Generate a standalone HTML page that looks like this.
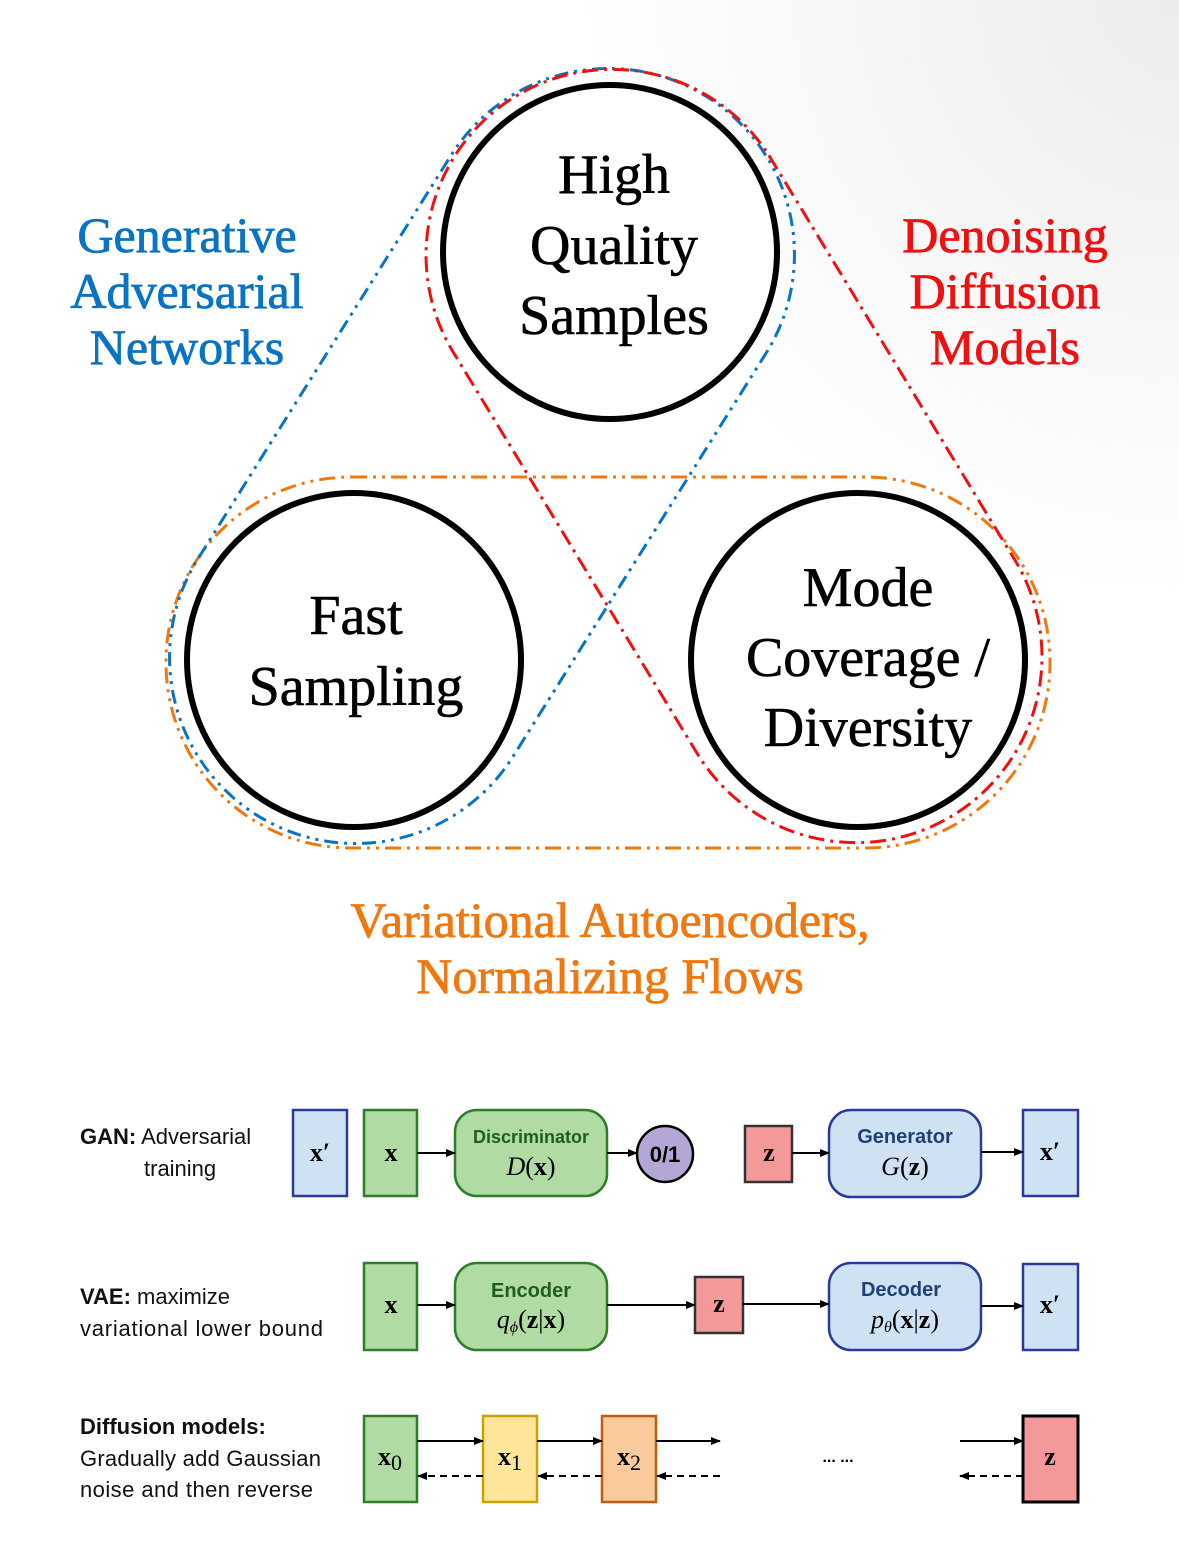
<!DOCTYPE html>
<html><head><meta charset="utf-8"><style>
html,body{margin:0;padding:0;background:#fff}
svg{display:block}
</style></head><body>
<svg width="1179" height="1547" viewBox="0 0 1179 1547" xmlns="http://www.w3.org/2000/svg">
<defs>
<radialGradient id="bg" cx="1179" cy="0" r="600" gradientUnits="userSpaceOnUse">
<stop offset="0" stop-color="#ececec"/><stop offset="0.6" stop-color="#f8f8f8"/><stop offset="1" stop-color="#ffffff"/>
</radialGradient>
<marker id="ah" markerWidth="10" markerHeight="8" refX="9" refY="4" orient="auto" markerUnits="userSpaceOnUse">
<path d="M0,0 L10,4 L0,8 z" fill="#000"/></marker>
</defs>
<rect width="1179" height="1547" fill="url(#bg)"/>

<rect x="166" y="477" width="884" height="371" rx="185" fill="none" stroke="#f07810" stroke-width="3" stroke-dasharray="16 6 3 6 3 6"/>
<path d="M767.5,350.9 L511.5,758.9 A186,186 0 0 1 196.5,561.1 L452.5,153.1 A186,186 0 0 1 767.5,350.9 Z" fill="none" stroke="#0a74c4" stroke-width="3" stroke-dasharray="14 6 3 6 3 6"/>
<path d="M768.9,155.4 L1016.9,563.4 A186,186 0 0 1 699.1,756.6 L451.1,348.6 A186,186 0 0 1 768.9,155.4 Z" fill="none" stroke="#ee1111" stroke-width="3" stroke-dasharray="16 6 3 6"/>

<g fill="#fff" stroke="#000" stroke-width="6">
<circle cx="610" cy="252" r="167"/>
<circle cx="354" cy="660" r="167"/>
<circle cx="858" cy="660" r="167"/>
</g>
<g font-family="Liberation Serif, serif" font-size="56" text-anchor="middle" fill="#000" stroke="#000" stroke-width="0.6">
<text x="614" y="193">High</text>
<text x="614" y="264">Quality</text>
<text x="614" y="334">Samples</text>
<text x="356" y="634">Fast</text>
<text x="356" y="705">Sampling</text>
<text x="868" y="606">Mode</text>
<text x="868" y="676">Coverage /</text>
<text x="868" y="746">Diversity</text>
</g>
<g font-family="Liberation Serif, serif" font-size="50" text-anchor="middle" stroke-width="0.8">
<text x="187" y="252" fill="#0a74c4" stroke="#0a74c4">Generative</text>
<text x="187" y="308" fill="#0a74c4" stroke="#0a74c4">Adversarial</text>
<text x="187" y="364" fill="#0a74c4" stroke="#0a74c4">Networks</text>
<text x="1005" y="252" fill="#ee1111" stroke="#ee1111">Denoising</text>
<text x="1005" y="308" fill="#ee1111" stroke="#ee1111">Diffusion</text>
<text x="1005" y="364" fill="#ee1111" stroke="#ee1111">Models</text>
<text x="610" y="937" fill="#f07810" stroke="#f07810">Variational Autoencoders,</text>
<text x="610" y="993" fill="#f07810" stroke="#f07810">Normalizing Flows</text>
</g>

<g font-family="Liberation Sans, sans-serif" font-size="22" fill="#111">
<text x="80" y="1144"><tspan font-weight="bold">GAN:</tspan> Adversarial</text>
<text x="144" y="1176">training</text>
<text x="80" y="1304"><tspan font-weight="bold">VAE:</tspan> maximize</text>
<text x="80" y="1336" textLength="243">variational lower bound</text>
<text x="80" y="1434" font-weight="bold">Diffusion models:</text>
<text x="80" y="1466" textLength="241">Gradually add Gaussian</text>
<text x="80" y="1497" textLength="233">noise and then reverse</text>
</g>

<g stroke-width="2.5">
<rect x="293" y="1110" width="54" height="86" fill="#cfe2f3" stroke="#2a3a9a"/>
<rect x="364" y="1110" width="53" height="86" fill="#b0dba3" stroke="#2f7d2a"/>
<rect x="455" y="1110" width="152" height="86" rx="22" fill="#b0dba3" stroke="#2f7d2a"/>
<ellipse cx="665" cy="1154" rx="28" ry="28" fill="#b4a7d6" stroke="#000"/>
<rect x="745" y="1126" width="47" height="56" fill="#f4999a" stroke="#333"/>
<rect x="829" y="1110" width="152" height="87" rx="22" fill="#cfe2f3" stroke="#2a3a9a"/>
<rect x="1023" y="1110" width="55" height="86" fill="#cfe2f3" stroke="#2a3a9a"/>

<rect x="364" y="1263" width="53" height="87" fill="#b0dba3" stroke="#2f7d2a"/>
<rect x="455" y="1263" width="152" height="87" rx="22" fill="#b0dba3" stroke="#2f7d2a"/>
<rect x="695" y="1277" width="48" height="56" fill="#f4999a" stroke="#333"/>
<rect x="829" y="1263" width="152" height="87" rx="22" fill="#cfe2f3" stroke="#2a3a9a"/>
<rect x="1023" y="1264" width="55" height="86" fill="#cfe2f3" stroke="#2a3a9a"/>

<rect x="364" y="1416" width="53" height="86" fill="#b0dba3" stroke="#2f7d2a"/>
<rect x="483" y="1416" width="54" height="86" fill="#ffe599" stroke="#c9a100"/>
<rect x="602" y="1416" width="54" height="86" fill="#f9cb9c" stroke="#c55a11"/>
<rect x="1023" y="1416" width="55" height="86" fill="#f4999a" stroke="#000" stroke-width="3"/>
</g>

<g stroke="#000" stroke-width="2" marker-end="url(#ah)" fill="none">
<line x1="417" y1="1153" x2="455" y2="1153"/>
<line x1="607" y1="1153" x2="637" y2="1153"/>
<line x1="792" y1="1153" x2="829" y2="1153"/>
<line x1="981" y1="1152" x2="1023" y2="1152"/>
<line x1="417" y1="1305" x2="455" y2="1305"/>
<line x1="607" y1="1305" x2="695" y2="1305"/>
<line x1="743" y1="1304" x2="829" y2="1304"/>
<line x1="981" y1="1306" x2="1023" y2="1306"/>
<line x1="417" y1="1441" x2="483" y2="1441"/>
<line x1="537" y1="1441" x2="602" y2="1441"/>
<line x1="656" y1="1441" x2="720" y2="1441"/>
<line x1="960" y1="1441" x2="1023" y2="1441"/>
</g>
<g stroke="#000" stroke-width="2" stroke-dasharray="7 5" marker-end="url(#ah)" fill="none">
<line x1="483" y1="1476" x2="418" y2="1476"/>
<line x1="602" y1="1476" x2="538" y2="1476"/>
<line x1="720" y1="1476" x2="657" y2="1476"/>
<line x1="1023" y1="1476" x2="960" y2="1476"/>
</g>

<g font-family="Liberation Sans, sans-serif" font-size="18" font-weight="bold" text-anchor="middle">
<text x="531" y="1143" fill="#1f5e1a">Discriminator</text>
<text x="905" y="1143" fill="#1f3f7a" font-size="20">Generator</text>
<text x="531" y="1297" fill="#1f5e1a" font-size="20">Encoder</text>
<text x="901" y="1296" fill="#1f3f7a" font-size="20">Decoder</text>
<text x="665" y="1162" fill="#000" font-size="22">0/1</text>
<text x="838" y="1462" fill="#000" font-size="16">... ...</text>
</g>
<g font-family="Liberation Serif, serif" font-size="26" text-anchor="middle" fill="#000">
<text x="531" y="1175"><tspan font-style="italic">D</tspan>(<tspan font-weight="bold">x</tspan>)</text>
<text x="905" y="1175"><tspan font-style="italic">G</tspan>(<tspan font-weight="bold">z</tspan>)</text>
<text x="531" y="1328"><tspan font-style="italic">q</tspan><tspan font-size="16" font-style="italic" dy="4">ϕ</tspan><tspan dy="-4">(</tspan><tspan font-weight="bold">z</tspan>|<tspan font-weight="bold">x</tspan>)</text>
<text x="905" y="1328"><tspan font-style="italic">p</tspan><tspan font-size="16" font-style="italic" dy="4">θ</tspan><tspan dy="-4">(</tspan><tspan font-weight="bold">x</tspan>|<tspan font-weight="bold">z</tspan>)</text>
<g font-weight="bold">
<text x="320" y="1161">x′</text>
<text x="391" y="1161">x</text>
<text x="769" y="1161">z</text>
<text x="1050" y="1160">x′</text>
<text x="391" y="1313">x</text>
<text x="719" y="1312">z</text>
<text x="1050" y="1313">x′</text>
<text x="390" y="1465">x<tspan font-weight="normal" font-size="22" dy="5">0</tspan></text>
<text x="510" y="1465">x<tspan font-weight="normal" font-size="22" dy="5">1</tspan></text>
<text x="629" y="1465">x<tspan font-weight="normal" font-size="22" dy="5">2</tspan></text>
<text x="1050" y="1465">z</text>
</g>
</g>
</svg>
</body></html>
